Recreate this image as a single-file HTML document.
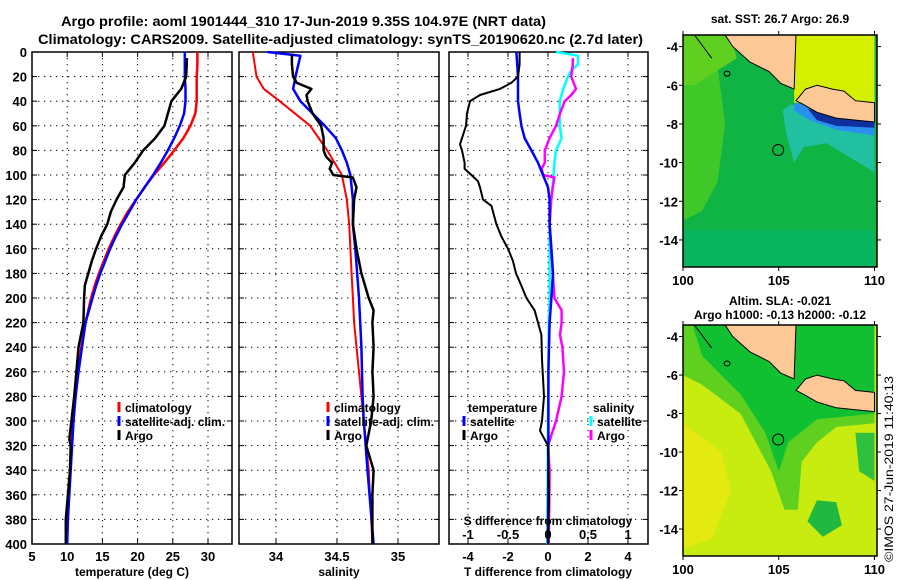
<!DOCTYPE html>
<html><head><meta charset="utf-8"><style>
html,body{margin:0;padding:0;background:#fff;}
svg{display:block;font-family:"Liberation Sans",sans-serif;font-weight:bold;}
</style></head><body>
<svg id="c" width="900" height="580" viewBox="0 0 900 580">
<text x="61" y="26" font-size="14" textLength="485" lengthAdjust="spacingAndGlyphs">Argo profile: aoml 1901444_310 17-Jun-2019 9.35S 104.97E (NRT data)</text>
<text x="38" y="44" font-size="14" textLength="605" lengthAdjust="spacingAndGlyphs">Climatology: CARS2009. Satellite-adjusted climatology: synTS_20190620.nc (2.7d later)</text>
<g id="maps"></g>
<text transform="translate(893,562) rotate(-90)" font-size="12" font-weight="normal" textLength="186" lengthAdjust="spacingAndGlyphs">©IMOS 27-Jun-2019 11:40:13</text>
</svg>
<script>
// ---- data ----
const tDepthClim=[0,10,20,30,40,50,60,70,80,90,100,110,120,130,140,150,160,170,180,190,200,220,240,260,280,300,320,340,360,380,400];
const tClim=[28.5,28.5,28.4,28.4,28.4,28.2,27.5,26.5,25.2,23.8,22.3,21,19.8,18.6,17.6,16.7,15.9,15.2,14.5,13.9,13.4,12.6,12,11.5,11.1,10.8,10.6,10.4,10.2,10.0,9.9];
const tSat=[26.7,26.7,26.7,26.8,26.8,26.6,26,25.2,24.3,23.3,22.2,21,19.8,18.8,17.8,16.9,16.1,15.4,14.7,14.1,13.6,12.6,12.1,11.6,11.2,10.9,10.7,10.5,10.3,10.1,10.0];
const tDepthArgo=[5,20,30,40,50,60,70,80,90,100,110,120,130,140,150,160,170,180,190,200,220,240,260,280,300,315,320,340,360,380,400];
const tArgo=[27,26.9,26.2,24.8,24.3,23.8,22.5,20.8,19.6,18.2,18,17,16.2,15.7,14.8,14.1,13.5,13.0,12.5,12.4,12.3,11.6,11.3,11,10.6,10.3,10.5,10.4,10.1,9.8,9.8];
const sDepthClim=[0,20,30,40,60,80,100,120,140,160,180,200,220,240,260,280,300,320,340,360,380,400];
const sClim=[33.81,33.84,33.9,34.03,34.28,34.42,34.54,34.58,34.6,34.61,34.62,34.63,34.64,34.66,34.68,34.7,34.72,34.74,34.76,34.77,34.78,34.79];
const sDepthSat=[0,3,20,30,40,50,60,70,80,90,100,120,140,160,200,240,280,300,340,400];
const sSat=[33.93,34.2,34.16,34.14,34.2,34.3,34.4,34.49,34.54,34.58,34.61,34.63,34.63,34.65,34.68,34.7,34.71,34.72,34.75,34.8];
const sDepthArgo=[2,10,20,25,30,35,40,50,60,70,80,85,90,95,100,102,110,120,140,160,180,200,210,220,240,260,280,300,320,340,360,380,400];
const sArgo=[34.13,34.13,34.14,34.17,34.29,34.25,34.26,34.3,34.37,34.39,34.39,34.41,34.46,34.44,34.47,34.63,34.66,34.64,34.63,34.66,34.7,34.76,34.8,34.79,34.8,34.79,34.8,34.78,34.74,34.8,34.79,34.79,34.79];
const dtDepthArgo=[0,10,20,25,30,35,40,50,60,70,75,80,90,95,100,105,110,120,125,140,150,160,170,180,190,200,210,220,230,250,280,300,308,320,360,400];
const dtArgo=[-1.42,-1.42,-1.5,-1.83,-2.4,-3.4,-3.9,-4.05,-4.1,-4.3,-4.4,-4.3,-4.17,-4.17,-3.83,-3.5,-3.4,-3.25,-2.83,-2.58,-2.33,-2,-1.75,-1.6,-1.33,-1.08,-0.67,-0.5,-0.33,-0.3,-0.2,-0.3,-0.4,0,0.05,0];
const dtDepthSat=[0,20,40,50,60,70,80,90,100,110,120,140,160,180,200,220,260,320,400];
const dtSat=[-1.58,-1.5,-1.5,-1.42,-1.33,-1.17,-0.83,-0.5,-0.25,0,0.08,0.08,0.17,0.25,0.17,0.08,0.02,0.02,0];
const dsDepthSat=[0,3,10,15,20,30,40,60,70,80,90,100,120,140,200,220,300,400];
const dsSat=[0.1,0.375,0.375,0.29,0.25,0.19,0.146,0.146,0.17,0.1,0.08,0.07,0.04,0.02,0.02,0.01,0.0,-0.01];
const dsDepthArgo=[5,10,20,30,35,40,50,60,70,80,90,95,100,102,110,120,140,160,180,200,210,220,230,240,260,280,300,320,340,400];
const dsArgo=[0.31,0.31,0.29,0.35,0.29,0.21,0.15,0.1,0.02,-0.04,-0.04,-0.08,-0.06,0.08,0.06,0.04,0.02,0.04,0.06,0.08,0.17,0.17,0.15,0.18,0.2,0.17,0.1,0.0,0.02,0.01];
const depthTicks=[0,20,40,60,80,100,120,140,160,180,200,220,240,260,280,300,320,340,360,380,400];
const tTicks=[5,10,15,20,25,30];
const sTicks=[34,34.5,35];
const sTickLabels=["34","34.5","35"];
const dtTicks=[-4,-2,0,2,4];
const dsTicks=[-1,-0.5,0,0.5,1];
const dsTickLabels=["-1","-0.5","0","0.5","1"];

const NS="http://www.w3.org/2000/svg";
const svg=document.getElementById('c');
function mk(tag,attrs,parent){const e=document.createElementNS(NS,tag);for(const k in attrs)e.setAttribute(k,attrs[k]);(parent||svg).appendChild(e);return e;}
const Y0=52,Y1=544;
const yD=d=>Y0+(Y1-Y0)*d/400;
function txt(x,y,s,anchor,size,name){const t=mk('text',{x:x,y:y,'text-anchor':anchor||'start','font-size':size||12});t.textContent=s;

return t;}
function panel(x0,x1,name){
  const g=mk('g',{});
  
  
  return g;
}
function frame(g,x0,x1){
  const r=mk('rect',{x:x0,y:Y0,width:x1-x0,height:Y1-Y0,fill:'none',stroke:'#000','stroke-width':1.5},g);
  
  
  depthTicks.forEach(d=>{const y=yD(d);
    const l=mk('line',{x1:x0,x2:x1,y1:y,y2:y,stroke:'#000','stroke-dasharray':'1.3,4.7'},g);
    
    
    mk('line',{x1:x0,x2:x0+5,y1:y,y2:y,stroke:'#000'},g);mk('line',{x1:x1-5,x2:x1,y1:y,y2:y,stroke:'#000'},g);});
}
function vgrid(g,xs,labels,name,ly,top,bottom){
  xs.forEach((x,i)=>{
    const l=mk('line',{x1:x,x2:x,y1:Y0,y2:Y1,stroke:'#000','stroke-dasharray':'1.3,4.7'},g);
    
    
    if(top)mk('line',{x1:x,x2:x,y1:Y0,y2:Y0+5,stroke:'#000'},g);
    if(bottom)mk('line',{x1:x,x2:x,y1:Y1-5,y2:Y1,stroke:'#000'},g);
    if(labels)txt(x,ly,labels[i],'middle',13,name);
  });
}
function line(g,xs,ds,sx,color,w,name){
  const p=xs.map((v,i)=>sx(v).toFixed(1)+','+yD(ds[i]).toFixed(1)).join(' ');
  const e=mk('polyline',{points:p,fill:'none',stroke:color,'stroke-width':w,'stroke-linejoin':'round'},g);
  
  
}
function legend(g,x,y,color,label,name){
  const m=mk('line',{x1:x,x2:x,y1:y-10,y2:y,stroke:color,'stroke-width':3},g);
  
  
  txt(x+6,y,label,'start',12,name);
}
// Panel 1 temperature
const p1=panel(32,232,'temperature-panel');
const xT=v=>32+(v-5)*7.04;
frame(p1,32,232);
vgrid(p1,tTicks.map(xT),tTicks.map(String),'temperature-tick-label',561,true,true);
depthTicks.forEach(d=>txt(27,yD(d)+5,String(d),'end',13,'depth-tick-label'));
line(p1,tClim,tDepthClim,xT,'#f00',2.5,'temperature-climatology-line');
line(p1,tSat,tDepthClim,xT,'#00f',2.5,'temperature-satellite-line');
line(p1,tArgo,tDepthArgo,xT,'#000',2.5,'temperature-argo-line');
txt(132,576,'temperature (deg C)','middle',12,'temperature-axis-title');
legend(p1,119,412,'#f00','climatology','legend-climatology');
legend(p1,119,426,'#00f','satellite-adj. clim.','legend-satellite-adj');
legend(p1,119,440,'#000','Argo','legend-argo');
// Panel 2 salinity
const p2=panel(239,439,'salinity-panel');
const xS=v=>276+(v-34)*122;
frame(p2,239,439);
vgrid(p2,sTicks.map(xS),sTickLabels,'salinity-tick-label',561,true,true);
line(p2,sClim,sDepthClim,xS,'#f00',2,'salinity-climatology-line');
line(p2,sSat,sDepthSat,xS,'#00f',2.5,'salinity-satellite-line');
line(p2,sArgo,sDepthArgo,xS,'#000',2.5,'salinity-argo-line');
txt(339,576,'salinity','middle',12,'salinity-axis-title');
legend(p2,328,412,'#f00','climatology','legend-climatology-2');
legend(p2,328,426,'#00f','satellite-adj. clim.','legend-satellite-adj-2');
legend(p2,328,440,'#000','Argo','legend-argo-2');
// Panel 3 differences
const p3=panel(449,648,'difference-panel');
const xDT=v=>548+v*20;
const xDS=v=>548+v*80;
frame(p3,449,648);
vgrid(p3,dtTicks.map(xDT),dtTicks.map(String),'t-difference-tick-label',561,true,true);
line(p3,dsSat,dsDepthSat,xDS,'#0ff',2.5,'salinity-diff-satellite-line');
line(p3,dsArgo,dsDepthArgo,xDS,'#f0f',2.5,'salinity-diff-argo-line');
line(p3,dtSat,dtDepthSat,xDT,'#00f',2.5,'temperature-diff-satellite-line');
line(p3,dtArgo,dtDepthArgo,xDT,'#000',2,'temperature-diff-argo-line');
txt(548,576,'T difference from climatology','middle',12,'t-difference-axis-title');
txt(548,525,'S difference from climatology','middle',12,'s-difference-axis-title');
dsTicks.forEach((v,i)=>txt(xDS(v),539,dsTickLabels[i],'middle',13,'s-difference-tick-label'));
txt(468,412,'temperature','start',12,'legend-temperature-header');
legend(p3,464,426,'#00f','satellite','legend-t-satellite');
legend(p3,464,440,'#000','Argo','legend-t-argo');
txt(593,412,'salinity','start',12,'legend-salinity-header');
legend(p3,591,426,'#0ff','satellite','legend-s-satellite');
legend(p3,591,440,'#f0f','Argo','legend-s-argo');

// ---- maps ----
const mapsG=document.getElementById('maps');
const lonTicks=[100,105,110];
const latTicks=[-4,-6,-8,-10,-12,-14];
function map(top,bottom,kind,name,title1,title2){
  const x0=683,x1=877;
  const lx=v=>x0+(v-100)*19.15;
  const ly=v=>top+(-3.4-v)*(bottom-top)/12;
  const g=mk('g',{},mapsG);
  
  
  const cid='clip'+kind;
  const cp=mk('clipPath',{id:cid},g);mk('rect',{x:x0,y:top,width:x1-x0,height:bottom-top},cp);
  const inner=mk('g',{'clip-path':'url(#'+cid+')'},g);
  const P=pts=>pts.map(p=>lx(p[0]).toFixed(1)+','+ly(p[1]).toFixed(1)).join(' ');
  if(kind==='sst'){
    mk('rect',{x:x0,y:top,width:x1-x0,height:bottom-top,fill:'#10b445'},inner);
    mk('polygon',{points:P([[100,-3.4],[101.5,-3.4],[101.8,-5],[102.2,-8],[101.8,-11],[101,-12.5],[100,-13]]),fill:'#40c828'},inner);
    mk('polygon',{points:P([[100,-13.5],[110,-13.5],[110,-15.6],[100,-15.6]]),fill:'#08b460'},inner);
    mk('polygon',{points:P([[105.6,-7],[110,-7.6],[110,-10.5],[107.5,-9],[106.3,-9.2],[105.8,-10],[105.4,-8.5],[105.2,-7.3]]),fill:'#20c0a0'},inner);
    mk('polygon',{points:P([[105.8,-6.9],[110,-7.6],[110,-8.6],[108,-8.3],[106.6,-7.8],[105.8,-7.3]]),fill:'#2a90f0'},inner);
    mk('polygon',{points:P([[106.5,-7.2],[108,-7.6],[110,-7.9],[110,-8.2],[108,-8.1],[107,-7.8]]),fill:'#1030a0'},inner);
    mk('polygon',{points:P([[105.8,-3.4],[110,-3.4],[110,-6.9],[105.8,-6.9]]),fill:'#d4f000'},inner);
    mk('polygon',{points:P([[100,-3.4],[102.5,-3.4],[102.8,-4.6],[100.6,-6],[100,-6]]),fill:'#60d020'},inner);
  } else {
    mk('rect',{x:x0,y:top,width:x1-x0,height:bottom-top,fill:'#c8ec10'},inner);
    mk('polygon',{points:P([[100,-3.4],[110,-3.4],[110,-8.5],[108,-8.7],[107,-9.5],[106.2,-10.5],[106,-13],[105.3,-13],[104.6,-11],[103,-8],[101,-6.5],[100,-6]]),fill:'#60d020'},inner);
    mk('polygon',{points:P([[100.5,-3.4],[110,-3.4],[110,-8],[107,-8.3],[105.5,-9.5],[105,-11],[104.3,-9],[103,-7],[101,-5]]),fill:'#10c030'},inner);
    mk('polygon',{points:P([[107,-12.5],[108,-12.6],[108.3,-13.8],[107.3,-14.4],[106.5,-13.6]]),fill:'#20b840'},inner);
    mk('polygon',{points:P([[100,-8.5],[102,-10],[102.5,-12],[101.5,-14.5],[100,-15]]),fill:'#e4ea10'},inner);
    mk('polygon',{points:P([[109,-9],[110,-9],[110,-11.5],[109.2,-11]]),fill:'#30c040'},inner);
  }
  // land
  const land1=mk('polygon',{points:P([[102.2,-3.4],[102.6,-4],[103.5,-4.8],[104.5,-5.3],[105.1,-5.9],[105.8,-6.2],[105.9,-3.4]]),fill:'#fcc896',stroke:'#000','stroke-width':1},inner);
  
  
  const land2=mk('polygon',{points:P([[105.9,-6.8],[106.4,-6.2],[107,-6.0],[107.8,-6.2],[108.4,-6.3],[109,-6.8],[110,-6.9],[110,-7.9],[109,-7.8],[108,-7.7],[107,-7.4],[106.3,-7.0]]),fill:'#fcc896',stroke:'#000','stroke-width':1},inner);
  
  
  mk('polyline',{points:P([[100.6,-3.4],[101.2,-4.2],[101.5,-4.6]]),fill:'none',stroke:'#000'},inner);
  mk('ellipse',{cx:lx(102.3),cy:ly(-5.4),rx:3,ry:2.5,fill:'none',stroke:'#000'},inner);
  const c=mk('circle',{cx:lx(104.97),cy:ly(-9.35),r:5.5,fill:'none',stroke:'#000','stroke-width':1},inner);
  
  
  const fr=mk('rect',{x:x0,y:top,width:x1-x0,height:bottom-top,fill:'none',stroke:'#000','stroke-width':1.5},g);
  
  
  latTicks.forEach(v=>{const y=ly(v);mk('line',{x1:x0-4,x2:x0,y1:y,y2:y,stroke:'#000'},g);mk('line',{x1:x1,x2:x1+4,y1:y,y2:y,stroke:'#000'},g);
    txt(x0-5,y+5,String(v),'end',13,'latitude-tick-label');});
  lonTicks.forEach(v=>{const x=lx(v);mk('line',{x1:x,x2:x,y1:top-4,y2:top,stroke:'#000'},g);mk('line',{x1:x,x2:x,y1:bottom,y2:bottom+4,stroke:'#000'},g);
    txt(x,bottom+18,String(v),'middle',13,'longitude-tick-label');});
  txt(780,title2?top-20:top-12,title1,'middle',12,'map-title');
  if(title2)txt(780,top-6,title2,'middle',12,'map-subtitle');
}
map(35,267,'sst','sst-map','sat. SST: 26.7 Argo: 26.9');
map(325,556,'sla','sla-map','Altim. SLA: -0.021','Argo h1000: -0.13 h2000: -0.12');
</script>
</body></html>
